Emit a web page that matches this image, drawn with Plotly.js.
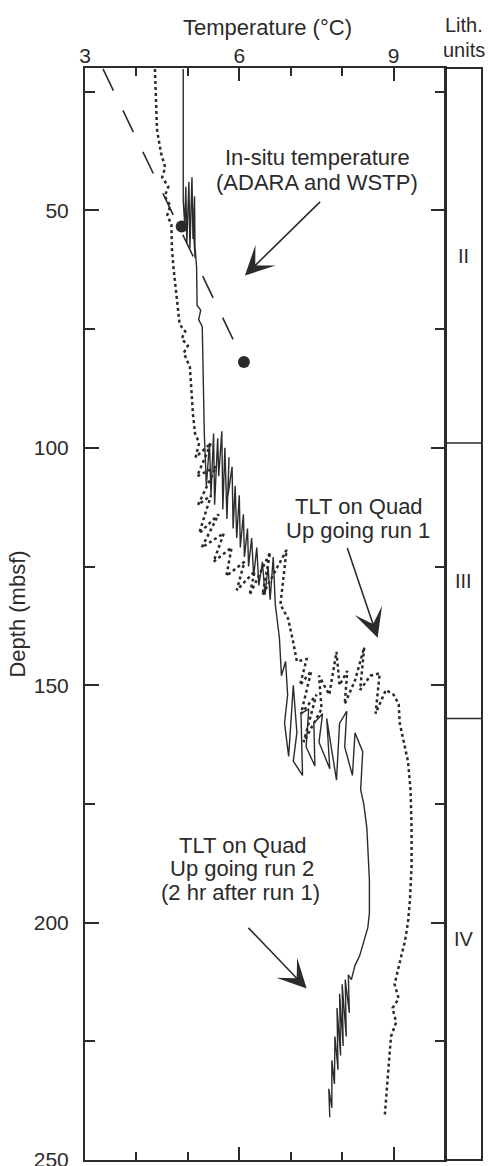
<!DOCTYPE html>
<html><head><meta charset="utf-8">
<script src="https://cdn.plot.ly/plotly-3.0.1.min.js"></script>
<style>html,body{margin:0;padding:0;background:#fff}#chart{width:488px;height:1166px}</style>
</head><body><div id="chart"></div>
<script>
// Run 2 (solid line): temperature (°C) and depth (mbsf)
const run2Temp = [4.91,4.91,4.94,4.96,4.98,5.02,5.04,5.08,5.10,5.13,5.14,5.10,5.17,5.17,5.18,5.25,5.21,5.28,5.29,5.31,5.32,
  5.36,5.42,5.45,5.50,5.52,5.58,5.60,5.66,5.68,5.72,5.76,5.80,5.78,5.86,5.88,5.92,5.95,6.00,6.02,6.08,6.10,6.16,6.18,6.24,6.28,6.34,6.38,6.45,6.50,6.56,6.60,6.66,6.70,
  6.78,6.82,6.90,6.94,6.88,6.96,7.05,7.12,7.05,7.23,7.20,7.35,7.30,7.47,7.45,7.62,7.55,7.76,7.70,7.89,7.95,8.09,8.05,8.20,8.25,8.40,8.36,
  8.42,8.48,8.50,8.53,8.53,8.50,8.42,8.34,8.25,8.18,8.12,8.14,8.06,8.08,8.00,8.02,7.95,7.97,7.90,7.92,7.86,7.85,7.80,7.80,7.74,7.76];
const run2Depth = [20.2,48,53,45,57,44,58,43,56,47,60,52,62,66,70,71,73,74.5,80,90,97,
  108,99,110,97,112,98,106,96.5,113,100,115,102,110,104,117,108,119,110,121,114,123,117,125,119,127,121,129,124,131,125,132,123,133,
  140,148,145,152,158,165,150,160,166,169,156,155,163,167,158,156,162,167.6,157,170,158,155.5,163,169,160,164,172,
  175,180,185,191,198,201,204,207,209,212,211,219,212,224,213,226,215,228,218,231,224,234,229,239,235,241];

// Run 1 (dotted line)
const run1Temp = [4.36,4.38,4.40,4.48,4.56,4.50,4.62,4.55,4.66,4.60,4.68,4.69,4.72,4.78,4.84,4.95,4.88,5.00,4.92,5.04,5.07,5.10,5.14,
  5.22,5.15,5.45,5.18,5.55,5.20,5.45,5.22,5.60,5.27,5.70,5.50,5.85,5.75,6.10,5.95,6.30,6.20,6.60,6.45,6.92,6.80,
  6.95,7.05,7.12,7.31,7.18,7.40,7.20,7.50,7.25,7.60,7.55,7.75,7.89,7.95,8.10,8.05,8.25,8.43,8.35,8.55,8.73,8.65,8.85,9.00,9.10,
  9.12,9.20,9.28,9.33,9.35,9.35,9.32,9.28,9.22,9.15,9.08,9.02,9.10,8.98,9.05,8.95,8.92,8.88,8.85,8.83];
const run1Depth = [20.2,27,33,38,41,43,45,47,49,51,53,58,62,68,74,75.5,77,78.5,80,83,88,93,97,
  99,102,99,106,104,112,110,118,114,121,118,124,121,127,124,130,126,131,122,131,121.5,133,
  136,141,145,144.5,150,147,156,152,162,155,148,152,143,150,147,154,149,142,151,148,147.5,156,151,152,154,
  158,162,166,172,180,188,195,200,204,207,210,213,216,218,221,224,228,233,237,240.5];

// In-situ temperature (ADARA and WSTP) points and trend line
const insituTemp = [4.88, 6.09];
const insituDepth = [53.4, 81.9];
const trendTemp = [3.35, 6.09];
const trendDepth = [20.2, 81.9];

// Lithologic units
const lithUnits = ['II', 'III', 'IV'];
const lithTop = [20, 99, 157];
const lithBottom = [99, 157, 250];

const xTickVals = [3, 6, 9];
const yTickVals = [50, 100, 150, 200, 250];

const ink = '#2b2b2b';
const fam = '"Liberation Sans", Arial, Helvetica, sans-serif';
const splitX = (445 - 85) / (482 - 85);
const pyTop = y => (1160 - y) / 1092;   // pixel row above plot -> paper y

const traces = [
  {x: trendTemp, y: trendDepth, mode: 'lines', line: {color: ink, width: 1.6, dash: '24px,22px'}, hoverinfo: 'skip'},
  {x: run1Temp, y: run1Depth, mode: 'lines', line: {color: ink, width: 2.5, dash: '3px,3px'}, hoverinfo: 'skip'},
  {x: run2Temp, y: run2Depth, mode: 'lines', line: {color: ink, width: 1.4}, hoverinfo: 'skip'},
  {x: insituTemp, y: insituDepth, mode: 'markers', marker: {color: ink, size: 12}, hoverinfo: 'skip'}
];

const shapes = [
  {type: 'rect', xref: 'paper', yref: 'paper', x0: splitX, x1: 1, y0: 0, y1: 1, line: {color: ink, width: 2}}
];
for (let i = 1; i < lithTop.length; i++) {
  shapes.push({type: 'line', xref: 'paper', yref: 'y', x0: splitX, x1: 1, y0: lithTop[i], y1: lithTop[i], line: {color: ink, width: 1.5}});
}

const annotations = [];
lithUnits.forEach((u, i) => {
  annotations.push({xref: 'paper', yref: 'y', x: (splitX + 1) / 2, y: (lithTop[i] + lithBottom[i]) / 2,
    xanchor: 'center', yanchor: 'middle', text: u, showarrow: false, font: {size: 20, color: ink, family: fam}});
});
annotations.push({xref: 'paper', yref: 'paper', x: (splitX + 1) / 2, y: pyTop(25), xanchor: 'center', yanchor: 'middle',
  text: 'Lith.', showarrow: false, font: {size: 20, color: ink, family: fam}});
annotations.push({xref: 'paper', yref: 'paper', x: (splitX + 1) / 2, y: pyTop(50), xanchor: 'center', yanchor: 'middle',
  text: 'units', showarrow: false, font: {size: 20, color: ink, family: fam}});
annotations.push({xref: 'paper', yref: 'paper', x: (267 - 85) / 397, y: pyTop(28), xanchor: 'center', yanchor: 'middle',
  text: 'Temperature (°C)', showarrow: false, font: {size: 22, color: ink, family: fam}});

function txt(t, x, y) {
  annotations.push({xref: 'x', yref: 'y', x: x, y: y, xanchor: 'center', yanchor: 'middle', text: t, showarrow: false,
    font: {size: 22, color: ink, family: fam}});
}
function arrow(x0, y0, x1, y1) {
  annotations.push({xref: 'x', yref: 'y', axref: 'x', ayref: 'y', x: x1, y: y1, ax: x0, ay: y0, text: '',
    showarrow: true, arrowhead: 3, arrowsize: 3, arrowwidth: 1.6, arrowcolor: ink});
}
txt('In-situ temperature', 7.52, 38.8);
txt('(ADARA and WSTP)', 7.52, 44.1);
arrow(7.60, 47.9, 6.11, 63.7);
txt('TLT on Quad', 8.33, 112.3);
txt('Up going run 1', 8.30, 117.4);
arrow(8.09, 120.8, 8.69, 140);
txt('TLT on Quad', 6.07, 183.7);
txt('Up going run 2', 6.05, 188.5);
txt('(2 hr after run 1)', 6.02, 193.6);
arrow(6.15, 200.8, 7.31, 213.9);

const layout = {
  width: 488, height: 1166,
  margin: {l: 85, r: 6, t: 68, b: 6},
  paper_bgcolor: '#fff', plot_bgcolor: '#fff',
  showlegend: false,
  font: {family: fam, color: ink, size: 21},
  xaxis: {
    side: 'top', domain: [0, splitX], range: [3, 10], tickmode: 'array', tickvals: xTickVals,
    ticks: 'inside', ticklen: 13, tickwidth: 2, tickcolor: ink,
    minor: {tickmode: 'linear', tick0: 3, dtick: 1, ticks: 'inside', ticklen: 8, tickwidth: 2, tickcolor: ink},
    showline: true, linewidth: 2, linecolor: ink, mirror: 'ticks', showgrid: false, zeroline: false,
    tickfont: {size: 21, color: ink}, ticklabelstandoff: -5, ticklabeloverflow: 'allow'
  },
  yaxis: {
    range: [250, 20], tickmode: 'array', tickvals: yTickVals,
    ticks: 'inside', ticklen: 14, tickwidth: 2, tickcolor: ink,
    minor: {tickmode: 'linear', tick0: 0, dtick: 25, ticks: 'inside', ticklen: 10, tickwidth: 2, tickcolor: ink},
    showline: true, linewidth: 2, linecolor: ink, mirror: 'ticks', showgrid: false, zeroline: false,
    tickfont: {size: 21, color: ink}, ticklabelstandoff: 10, ticklabeloverflow: 'allow',
    title: {text: 'Depth (mbsf)', font: {size: 22, color: ink}, standoff: 2}
  },
  shapes: shapes,
  annotations: annotations
};

Plotly.newPlot('chart', traces, layout, {staticPlot: true, displayModeBar: false});
</script>
</body></html>
